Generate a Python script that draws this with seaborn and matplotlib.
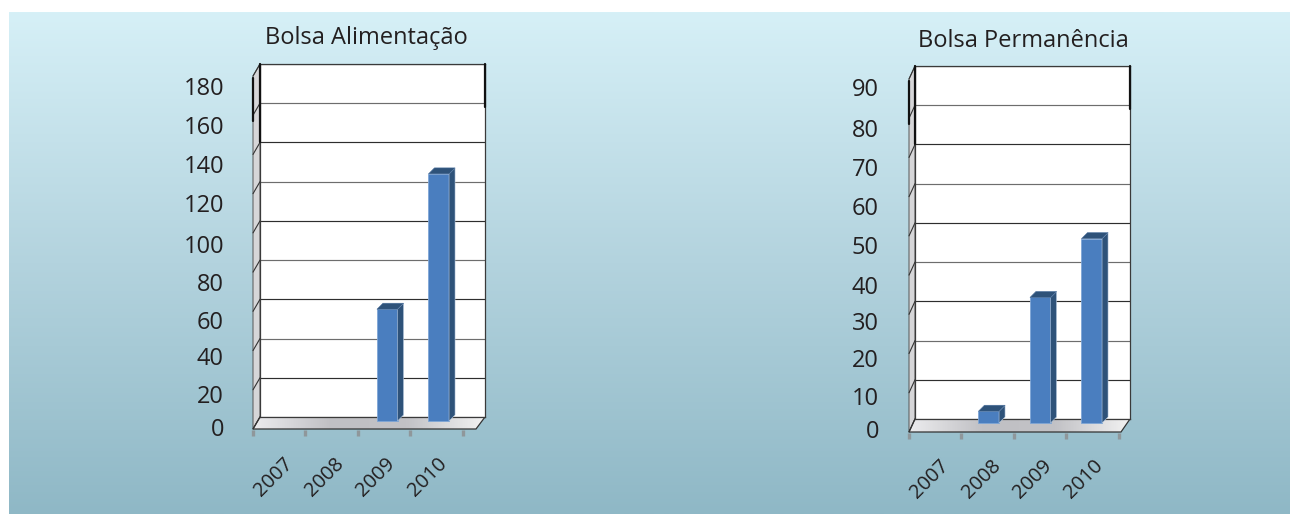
import numpy as np
import matplotlib
matplotlib.use("Agg")
import matplotlib.pyplot as plt
from matplotlib.colors import LinearSegmentedColormap
from matplotlib.patches import Polygon
from matplotlib.transforms import IdentityTransform
import seaborn as sns

years = ["2007", "2008", "2009", "2010"]
alimentacao_title = "Bolsa Alimentação"
alimentacao_values = [0, 0, 57, 126]
alimentacao_ticks = [0, 20, 40, 60, 80, 100, 120, 140, 160, 180]
permanencia_title = "Bolsa Permanência"
permanencia_values = [0, 3, 32, 47]
permanencia_ticks = [0, 10, 20, 30, 40, 50, 60, 70, 80, 90]

W, H = 1299, 514
FONT = "Open Sans"
TEXT = "#231f20"
FRONT, SIDE, TOP = "#4a7ebf", "#2e5279", "#2e5279"

sns.set_theme(style="white")
plt.rcParams["font.family"] = [FONT, "DejaVu Sans"]

fig = plt.figure(figsize=(W / 100, H / 100), dpi=100, facecolor="white")
bg = fig.add_axes([0, 0, 1, 1], zorder=0)
bg.axis("off")
sky = LinearSegmentedColormap.from_list("sky", ["#d6f0f7", "#b3d3de", "#8fb8c6"])
bg.imshow(np.linspace(0, 1, 256)[:, None], cmap=sky, extent=(9, 1290, 514, 12),
          aspect="auto", zorder=0)
floor_cmap = LinearSegmentedColormap.from_list(
    "floor", ["#ececee", "#c0c0c4", "#c2c2c6", "#f2f2f2"])


def px_axes(left, top, right, bottom, z):
    ax = fig.add_axes([left / W, 1 - bottom / H, (right - left) / W, (bottom - top) / H],
                      zorder=z)
    return ax


def panel(title, title_xy, values, ticks, geom):
    wl, wr, wt, wb = geom["wall"]
    dx, dy = geom["depth"]
    fy = wb + dy
    # side wall
    bg.add_patch(Polygon([(wl - dx, wt + dy), (wl, wt), (wl, wb), (wl - dx, fy)],
                         facecolor="#d6d6d8", edgecolor="#555555", lw=0.7, zorder=2))
    # floor
    floor = Polygon([(wl, wb), (wr, wb), (wr - 9, fy), (wl - dx, fy)],
                    facecolor="none", edgecolor="#333333", lw=0.9, zorder=4)
    bg.add_patch(floor)
    im = bg.imshow(np.linspace(0, 1, 128)[None, :], cmap=floor_cmap,
                   extent=(wl - dx, wr, fy, wb), aspect="auto", zorder=3)
    im.set_clip_path(floor)
    # back wall with gridlines
    wall = px_axes(wl, wt, wr, wb, 1)
    wall.set_facecolor("white")
    wall.set_ylim(0, ticks[-1])
    wall.set_xlim(0, 1)
    wall.set_xticks([])
    wall.set_yticks(ticks)
    wall.tick_params(left=False, labelleft=False)
    wall.grid(axis="y", color="#2e2e2e", lw=0.85)
    for i, line in enumerate(wall.get_ygridlines()):
        if i % 2 == 0:
            line.set_color("#6d6d6d")
    for s in wall.spines.values():
        s.set_color("#3a3a3a")
        s.set_linewidth(0.9)
    # slanted joins on the side wall
    for t in ticks[1:]:
        y = wb - (wb - wt) * t / ticks[-1]
        bg.plot([wl - dx, wl], [y + dy, y], color="#333333", lw=0.8, zorder=5)
    bg.plot([wl - dx, wl], [fy, wb], color="#333333", lw=0.8, zorder=5)
    # heavy black ends near the top
    fig_over = px_axes(0, 0, W, H, 1.5)
    fig_over.axis("off")
    fig_over.set_xlim(0, W)
    fig_over.set_ylim(H, 0)
    step = (wb - wt) / (len(ticks) - 1)
    fig_over.plot([wl, wl], [wt, wt + 2 * step], color="#111111", lw=1.6)
    fig_over.plot([wr, wr], [wt, wt + step + 4], color="#111111", lw=1.6)
    fig_over.plot([wl - dx, wl - dx], [wt + dy + 2, wt + dy + step + 6], color="#111111", lw=1.6)
    # bars
    base = geom["base"]
    x0, x1 = geom["bars_x"]
    ax = px_axes(x0, base - (wb - wt), x1, base, 2)
    ax.patch.set_alpha(0)
    sns.barplot(x=years, y=values, order=years, color=FRONT, saturation=1,
                width=0.4, ax=ax, edgecolor="#7ea6d6", linewidth=0.6, clip_on=False)
    ax.set_xlim(-0.5, len(years) - 0.5)
    ax.set_ylim(0, ticks[-1])
    ax.axis("off")
    d = 6
    for bar in list(ax.patches):
        h = bar.get_height()
        if h <= 0:
            bar.set_visible(False)
            continue
        bx = bar.get_x()
        bw = bar.get_width()
        (xa, ya), (xb, yb) = ax.transData.transform([(bx, 0), (bx + bw, h)])
        ax.add_patch(Polygon([(xb, ya), (xb + d, ya + d), (xb + d, yb + d), (xb, yb)],
                             transform=IdentityTransform(), facecolor=SIDE,
                             edgecolor="#b9cbe0", lw=0.4, clip_on=False, zorder=1))
        ax.add_patch(Polygon([(xa, yb), (xa + d, yb + d), (xb + d, yb + d), (xb, yb)],
                             transform=IdentityTransform(), facecolor=TOP,
                             edgecolor="#4a6f9c", lw=0.4, clip_on=False, zorder=1))
    # x tick marks and labels
    t0, t1 = geom["ticks_x"]
    for e in np.linspace(t0, t1, len(years) + 1):
        bg.plot([e, e], [fy + 0.5, fy + 7], color="#8f979b", lw=2.4, zorder=5,
                solid_capstyle="butt")
    for lab, cx in zip(years, geom["xlab"]):
        bg.text(cx, geom["xlab_y"], lab, rotation=45, ha="center", va="center",
                rotation_mode="anchor", fontsize=14.5, color=TEXT, zorder=6)
    # y tick labels
    for t, yp in zip(ticks, geom["ylab"]):
        bg.text(geom["ylab_x"], yp + 3, str(t), ha="right", va="center",
                fontsize=17, color=TEXT, zorder=6)
    bg.text(title_xy[0], title_xy[1], title, ha="center", va="center",
            fontsize=17, color=TEXT, zorder=6)


panel(alimentacao_title, (366, 38), alimentacao_values, alimentacao_ticks, dict(
    wall=(260, 485, 64, 417), depth=(7, 12), base=421, bars_x=(258.5, 464.5),
    ticks_x=(253, 463), xlab=[274, 325, 376, 428], xlab_y=477,
    ylab=[427, 394, 356, 320, 282, 244, 203, 164, 125, 86], ylab_x=224))
panel(permanencia_title, (1023, 41), permanencia_values, permanencia_ticks, dict(
    wall=(915, 1130, 66, 419), depth=(6, 13), base=423, bars_x=(911.5, 1117.5),
    ticks_x=(909, 1119), xlab=[930, 982, 1033, 1084], xlab_y=479,
    ylab=[429, 396, 358, 321, 285, 245, 206, 167, 128, 87], ylab_x=879))

bg.set_xlim(0, W)
bg.set_ylim(H, 0)
fig.savefig("out.png", dpi=100, facecolor="white")
